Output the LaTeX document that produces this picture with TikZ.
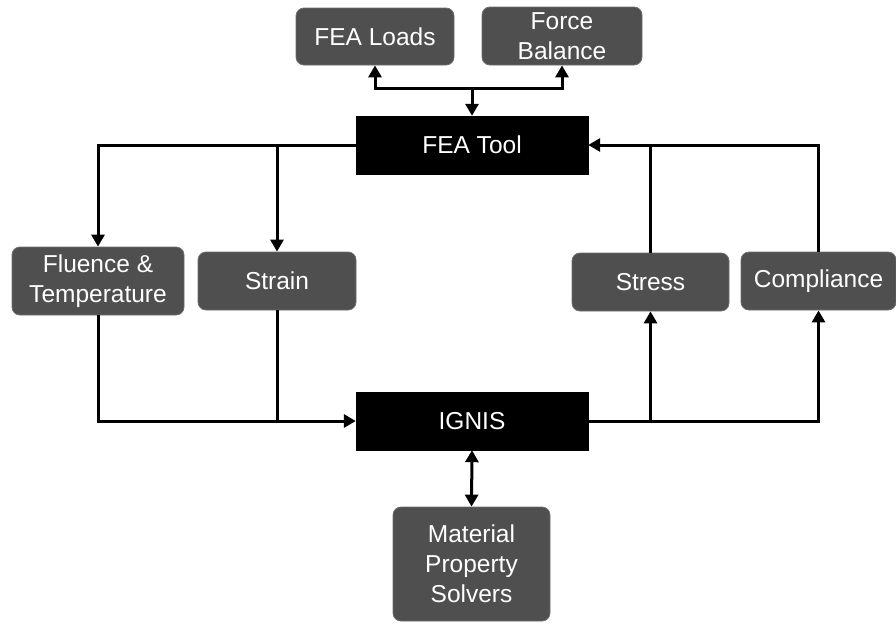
\documentclass[tikz,border=0pt]{standalone}
\usepackage{fontspec}
\setmainfont{Liberation Sans}
\usetikzlibrary{arrows.meta}
\definecolor{boxgrey}{HTML}{4F4F4F}
\definecolor{edgegrey}{HTML}{6E6E6E}
\begin{document}
\begin{tikzpicture}[x=1pt,y=-1pt,
  greybox/.style={draw=edgegrey, line width=0.8pt, fill=boxgrey, rounded corners=8pt,
    text=white, align=center, inner sep=0pt,
    font=\fontsize{24.5}{30}\selectfont},
  blackbox/.style={draw=black, fill=black, text=white, inner sep=0pt,
    minimum width=232pt, minimum height=58pt,
    font=\fontsize{24.5}{30}\selectfont},
  link/.style={line width=3pt},
  arr/.style={link, -{Triangle[length=12pt,width=13pt]}},
  biarr/.style={link, {Triangle[length=12pt,width=13pt]}-{Triangle[length=12pt,width=13pt]}}]
\useasboundingbox (0,0) rectangle (896,624);

% tool blocks
\node[blackbox] (featool) at (472,145) {FEA Tool};
\node[blackbox] (ignis) at (472,421) {IGNIS};

% inputs and outputs
\node[greybox, minimum width=158pt, minimum height=57pt] (loads) at (375,36.5) {FEA Loads};
\node[greybox, minimum width=160pt, minimum height=58pt] (force) at (562,36) {Force\\Balance};
\node[greybox, minimum width=172pt, minimum height=68pt] (fluence) at (98,281) {Fluence \&\\Temperature};
\node[greybox, minimum width=158pt, minimum height=58pt] (strain) at (277,281) {Strain};
\node[greybox, minimum width=157pt, minimum height=58pt] (stress) at (650.5,282) {Stress};
\node[greybox, minimum width=155pt, minimum height=58pt] (compliance) at (818.5,281) {Compliance};
\node[greybox, minimum width=157pt, minimum height=114pt] (mps) at (471.5,564) {Material\\Property\\Solvers};

% FEA tool exchanges with loads and force balance
\coordinate (split) at (472,88);
\draw[arr] (split) -| (loads.south);
\draw[arr] (split) -| (force.south);
\draw[arr] (split) -- (featool.north);

% FEA tool feeds fluence/temperature and strain
\draw[arr] (featool.west) -| (fluence.north);
\draw[arr] (strain.north |- featool.west) -- (strain.north);

% fluence/temperature and strain into IGNIS
\draw[arr] (fluence.south) |- (ignis.west);
\draw[link] (strain.south) -- (strain.south |- ignis.west);

% IGNIS outputs stress and compliance
\draw[arr] (ignis.east) -| (compliance.south);
\draw[arr] (stress.south |- ignis.east) -- (stress.south);

% stress and compliance back to the FEA tool
\draw[arr] (compliance.north) |- (featool.east);
\draw[link] (stress.north) -- (stress.north |- featool.east);

% IGNIS and the material property solvers
\draw[biarr] (ignis.south) -- (mps.north);
\end{tikzpicture}
\end{document}
